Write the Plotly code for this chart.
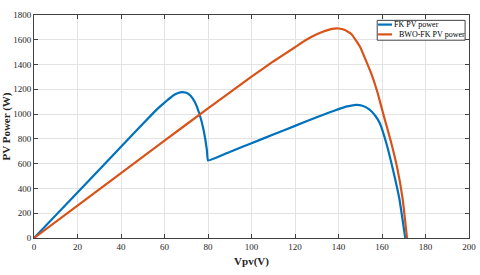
import plotly.graph_objects as go

# FK PV power (blue)
fk_v = [0, 20, 40, 55, 58, 61, 64, 66, 68, 70, 72, 74, 76, 78, 79.5, 80,
        90, 100, 110, 120, 130, 136, 140, 144, 148, 151, 154, 157, 159,
        162, 165, 168, 170.7]
fk_p = [0, 368, 736, 1012, 1062, 1108, 1150, 1168, 1178, 1172, 1148, 1095, 1005, 870, 710, 625,
        695, 765, 835, 905, 975, 1015, 1040, 1062, 1075, 1068, 1040, 985, 926,
        765, 555, 315, 0]

# BWO-FK PV power (orange)
bwo_v = [0, 20, 40, 60, 80, 100, 110, 120, 125, 130, 135, 138, 140, 143, 146,
         150, 155, 158, 161, 164, 167, 169.5, 171.5]
bwo_p = [0, 262, 524, 786, 1046, 1302, 1425, 1540, 1598, 1645, 1678, 1690, 1691, 1678, 1645,
         1540, 1330, 1170, 975, 785, 565, 315, 0]

series_names = ["FK PV power", "BWO-FK PV power"]
series_colors = ["#0072BD", "#D95319"]

x_ticks = [0, 20, 40, 60, 80, 100, 120, 140, 160, 180, 200]
y_ticks = [0, 200, 400, 600, 800, 1000, 1200, 1400, 1600, 1800]

serif = "Liberation Serif"

fig = go.Figure()
fig.add_trace(go.Scatter(x=fk_v, y=fk_p, mode="lines", name=series_names[0],
                         line=dict(color=series_colors[0], width=2.2, shape="spline", smoothing=0.3)))
fig.add_trace(go.Scatter(x=bwo_v, y=bwo_p, mode="lines", name=series_names[1],
                         line=dict(color=series_colors[1], width=2.2, shape="spline", smoothing=0.3)))

axis_common = dict(
    showline=True, linecolor="#404040", linewidth=1, mirror="ticks",
    ticks="inside", ticklen=4, tickcolor="#404040",
    showgrid=True, gridcolor="#e3e3e3", gridwidth=1,
    zeroline=False, automargin=False,
    tickfont=dict(family=serif, size=9, color="#262626"),
)

fig.update_xaxes(range=[0, 200], tickvals=x_ticks,
                 title=dict(text="<b>Vpv(V)</b>", font=dict(family=serif, size=11, color="#262626"), standoff=6),
                 **axis_common)
fig.update_yaxes(range=[0, 1800], tickvals=y_ticks,
                 title=dict(text="<b>PV Power (W)</b>", font=dict(family=serif, size=11, color="#262626"), standoff=4),
                 **axis_common)

# compact legend box (drawn in paper coordinates, like MATLAB's legend)
fig.add_shape(type="rect", xref="paper", yref="paper", x0=0.789, x1=0.991, y0=0.887, y1=0.976,
              line=dict(color="#404040", width=1), fillcolor="white", layer="above")
leg_rows = [(0.957, 0.823), (0.913, 0.834)]
for (ly, tx), nm, col in zip(leg_rows, series_names, series_colors):
    fig.add_shape(type="line", xref="paper", yref="paper", x0=0.791, x1=0.823, y0=ly, y1=ly,
                  line=dict(color=col, width=2.2), layer="above")
    fig.add_annotation(xref="paper", yref="paper", x=tx, y=ly, text=nm, showarrow=False,
                       xanchor="left", yanchor="middle", xshift=0,
                       font=dict(family=serif, size=8, color="#000000"))

fig.update_layout(
    width=480, height=275,
    margin=dict(l=34, r=11, t=15, b=37),
    paper_bgcolor="white", plot_bgcolor="white",
    font=dict(family=serif, color="#262626"),
    showlegend=False,
)

fig.write_html("out.html", config={"displayModeBar": False},
               post_script="document.body.style.margin='0';")
